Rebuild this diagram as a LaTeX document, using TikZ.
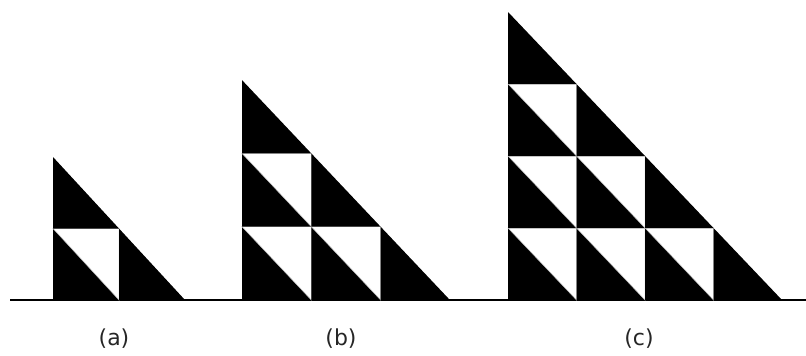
\documentclass[tikz,border=0pt]{standalone}
\usepackage{fontspec}
\setmainfont{DejaVu Sans}

\begin{document}
\begin{tikzpicture}[
    x=1pt, y=-1pt, % one unit per pixel, y grows downwards
    blackhalf/.style={fill=black},
    whitehalf/.style={fill=white, draw=black!30, line width=0.5pt},
    every node/.style={font=\fontsize{22}{26}\selectfont, text=black!85}
]
    \useasboundingbox (0,0) rectangle (806,356);

    % the ground line
    \coordinate (g0) at (10,300);
    \coordinate (g1) at (806,300);
    \draw[line width=1.3pt] (g0) -- (g1);

    % the three staircases: left edge, cell width, cell height, rows, label, label x
    \foreach \xo/\w/\h/\n/\lab/\lx in {53/66/71.5/2/a/114, 242/69.3/73.3/3/b/341, 508/68.5/72/4/c/639}{
      \pgfmathtruncatemacro{\m}{\n-1}
      \foreach \r in {0,...,\m}{
        \pgfmathtruncatemacro{\k}{\m-\r}
        \foreach \c in {0,...,\k}{
          % lower half of the cell
          \fill[blackhalf] (\xo+\c*\w, 300-\r*\h-\h) -- (\xo+\c*\w, 300-\r*\h)
              -- (\xo+\c*\w+\w, 300-\r*\h) -- cycle;
          % upper half, only inside the staircase
          \ifnum\c<\k
            \draw[whitehalf] (\xo+\c*\w, 300-\r*\h-\h) -- (\xo+\c*\w+\w, 300-\r*\h-\h)
                -- (\xo+\c*\w+\w, 300-\r*\h) -- cycle;
          \fi
        }
      }
      \node (lab\lab) at (\lx,339) {(\lab)};
    }
\end{tikzpicture}
\end{document}
